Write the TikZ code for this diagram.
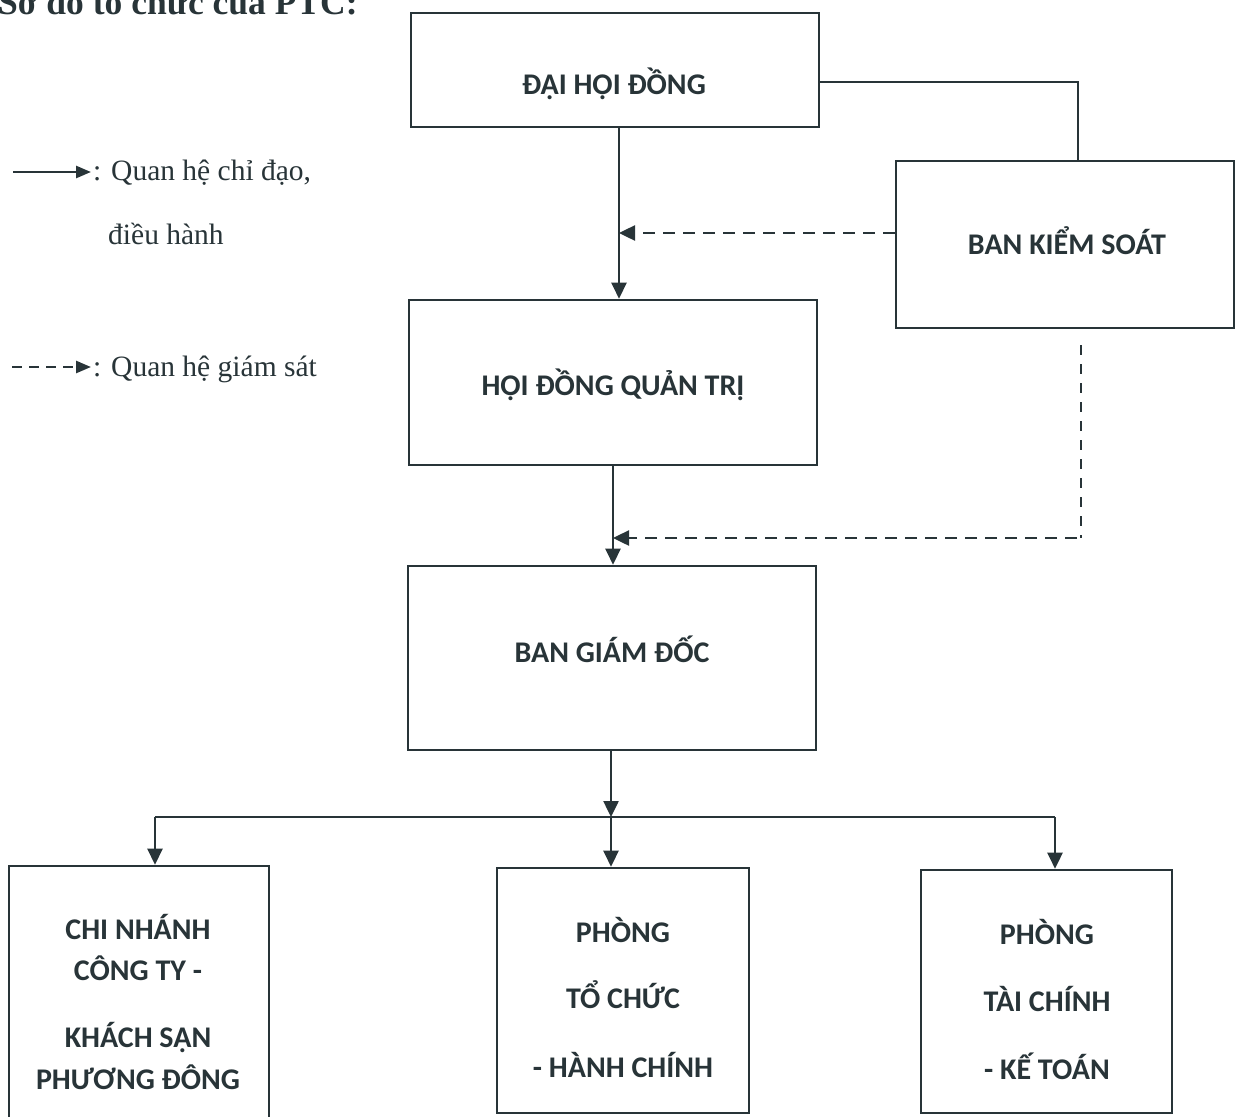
\documentclass[tikz,border=0pt]{standalone}
\usepackage{fontspec}
\setmainfont{Liberation Serif}
\newfontfamily\bfont{Carlito}
\usetikzlibrary{arrows.meta}
\definecolor{ink}{RGB}{40,52,56}
\begin{document}
\begin{tikzpicture}[x=1pt,y=-1pt,
  box/.style args={#1/#2}{draw=ink,line width=2.6pt,minimum width=#1,minimum height=#2,inner sep=0pt},
  lbl/.style={font=\bfont\bfseries\fontsize{30}{35}\selectfont,text=ink,inner sep=0pt,anchor=base},
  leg/.style={font=\fontsize{29.5}{34}\selectfont,text=ink,inner sep=0pt,anchor=base west},
  conn/.style={draw=ink,line width=2.5pt},
  arr/.style={conn,-{Triangle[length=16pt,width=15pt]}},
  dsh/.style={draw=ink,line width=2.5pt,dash pattern=on 12pt off 8pt},
  dsharr/.style={dsh,-{Triangle[length=16pt,width=15pt]}},
  thin dsh/.style={draw=ink,line width=1.5pt,dash pattern=on 10pt off 9pt},
  legarr/.style={conn,-{Triangle[length=15pt,width=12pt]}},
  legdsh/.style={dsh,dash pattern=on 10pt off 7pt,-{Triangle[length=15pt,width=12pt]}}]
\useasboundingbox (0,0) rectangle (1236,1116);
\fill[white] (0,0) rectangle (1236,1116);

% title (cut off at top, as in the reference)
\node[font=\bfseries\fontsize{35.5}{40}\selectfont,text=ink,inner sep=0pt,anchor=base west] (title) at (-2,15) {Sơ đồ tổ chức của PTC:};

% legend
\coordinate (l1a) at (13,172);
\coordinate (l1b) at (91,172);
\draw[legarr] (l1a) -- (l1b);
\node[leg] (leg1) at (93,180) {: Quan hệ chỉ đạo,};
\node[leg] (leg1b) at (108,244) {điều hành};
\coordinate (l2a) at (12,367);
\coordinate (l2b) at (91,367);
\draw[legdsh] (l2a) -- (l2b);
\node[leg] (leg2) at (93,376) {: Quan hệ giám sát};

% boxes
\node[box={408pt/114pt}] (dhd) at (615,70) {};
\node[lbl] (tdhd) at (614,94) {ĐẠI HỘI ĐỒNG};

\node[box={338pt/167pt}] (bks) at (1065,244.5) {};
\node[lbl] (tbks) at (1067,254) {BAN KIỂM SOÁT};

\node[box={408pt/165pt}] (hdqt) at (613,382.5) {};
\node[lbl] (thdqt) at (613,395) {HỘI ĐỒNG QUẢN TRỊ};

\node[box={408pt/184pt}] (bgd) at (612,658) {};
\node[lbl] (tbgd) at (612,662) {BAN GIÁM ĐỐC};

\node[box={260pt/262pt}] (cn) at (139,997) {};
\node[lbl] (cn1) at (138,939) {CHI NHÁNH};
\node[lbl] (cn2) at (138,980) {CÔNG TY -};
\node[lbl] (cn3) at (138,1047) {KHÁCH SẠN};
\node[lbl] (cn4) at (138,1089) {PHƯƠNG ĐÔNG};

\node[box={252pt/245pt}] (tc) at (623,990.5) {};
\node[lbl] (tc1) at (623,942) {PHÒNG};
\node[lbl] (tc2) at (623,1008) {TỔ CHỨC};
\node[lbl] (tc3) at (623,1077) {- HÀNH CHÍNH};

\node[box={251pt/243pt}] (kt) at (1046.5,991.5) {};
\node[lbl] (kt1) at (1047,944) {PHÒNG};
\node[lbl] (kt2) at (1047,1011) {TÀI CHÍNH};
\node[lbl] (kt3) at (1047,1079) {- KẾ TOÁN};

% connectors
\coordinate (x1) at (619,0);
\coordinate (x2) at (613,0);
\coordinate (x3) at (611,0);
\coordinate (xb) at (1078,0);
\coordinate (xl) at (155,0);
\coordinate (xr) at (1055,0);

\draw[conn] ([yshift=-12pt]dhd.east) -| (bks.north -| xb);
\draw[arr] (dhd.south -| x1) -- (hdqt.north -| x1);
\coordinate (d1) at (619,233);
\draw[dsharr] (bks.west |- d1) -- (d1);

\draw[arr] (hdqt.south -| x2) -- (bgd.north -| x2);
\coordinate (d2s) at (1081,345);
\coordinate (d2c) at (1081,538);
\coordinate (d2e) at (613,538);
\draw[thin dsh] (d2s) -- (d2c);
\draw[dsharr] ([xshift=-4pt]d2c) -- (d2e);

\coordinate (j) at (611,817);
\draw[arr] (bgd.south -| x3) -- (j);
\coordinate (jl) at (155,817);
\coordinate (jr) at (1055,817);
\draw[conn] (jl) -- (jr);
\draw[arr] (jl) -- (cn.north -| xl);
\draw[arr] (j) -- (tc.north -| x3);
\draw[arr] (jr) -- (kt.north -| xr);
\end{tikzpicture}
\end{document}
